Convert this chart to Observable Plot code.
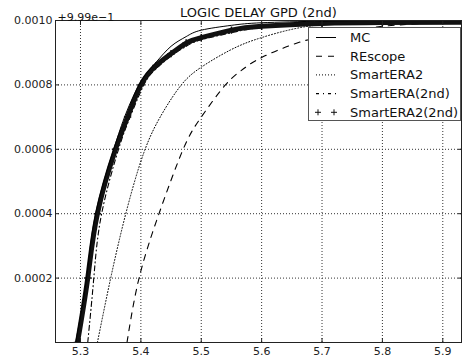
<!DOCTYPE html>
<html><head><meta charset="utf-8">
<script src="https://cdn.jsdelivr.net/npm/d3@7"></script>
<script src="https://cdn.jsdelivr.net/npm/@observablehq/plot@0.6"></script>
<style>
body{margin:0;background:#fff;}
#chart{width:462px;height:358px;position:relative;}
svg{font-family:"DejaVu Sans",sans-serif;}
</style></head><body><div id="chart"></div>
<script>
const title = "LOGIC DELAY GPD (2nd)";
const offsetLabel = "+9.99e\u22121";
const xTicks = [5.3, 5.4, 5.5, 5.6, 5.7, 5.8, 5.9];
const yTicks = [0.0002, 0.0004, 0.0006, 0.0008, 0.0010];
const yTickLabels = ["0.0002", "0.0004", "0.0006", "0.0008", "0.0010"];
const seriesNames = ["MC", "REscope", "SmartERA2", "SmartERA(2nd)", "SmartERA2(2nd)"];

// values are offsets from 9.99e-1
const mcX = [5.292, 5.310, 5.325, 5.355, 5.375, 5.400, 5.425, 5.450, 5.475, 5.500, 5.550, 5.600, 5.700, 5.800, 5.940];
const mcY = [0, 0.0002, 0.0004, 0.0006, 0.00071, 0.00081, 0.00087, 0.00092, 0.00095, 0.00097, 0.000985, 0.000993, 0.000998, 0.0010, 0.0010];

const rescopeX = [5.377, 5.397, 5.430, 5.470, 5.500, 5.540, 5.570, 5.600, 5.667, 5.730, 5.800, 5.940];
const rescopeY = [0, 0.0002, 0.0004, 0.0006, 0.00070, 0.0008, 0.00085, 0.000885, 0.000935, 0.00096, 0.000982, 0.000997];

const era2X = [5.328, 5.350, 5.375, 5.405, 5.435, 5.467, 5.500, 5.550, 5.600, 5.670, 5.750, 5.850, 5.940];
const era2Y = [0, 0.0002, 0.0004, 0.00059, 0.00071, 0.0008, 0.000855, 0.00091, 0.000947, 0.00098, 0.000993, 0.000998, 0.0010];

const eraSecX = [5.312, 5.322, 5.335, 5.363, 5.380, 5.405, 5.425, 5.450, 5.475, 5.500, 5.550, 5.600, 5.700, 5.800, 5.940];
const eraSecY = [0, 0.0002, 0.0004, 0.0006, 0.00069, 0.0008, 0.00085, 0.00089, 0.00092, 0.00094, 0.000962, 0.000978, 0.00099, 0.000995, 0.000998];

const era2SecX = [5.295, 5.312, 5.328, 5.358, 5.378, 5.400, 5.425, 5.450, 5.475, 5.500, 5.550, 5.600, 5.700, 5.800, 5.940];
const era2SecY = [0, 0.0002, 0.0004, 0.0006, 0.00070, 0.0008, 0.00086, 0.000897, 0.00093, 0.000947, 0.00097, 0.000982, 0.000991, 0.000994, 0.000995];

const toRows = (xs, ys) => xs.map((x, i) => ({x, y: ys[i]}));
const mc = toRows(mcX, mcY);
const rescope = toRows(rescopeX, rescopeY);
const era2 = toRows(era2X, era2Y);
const eraSec = toRows(eraSecX, eraSecY);
const era2Sec = toRows(era2SecX, era2SecY);

const lineOpt = {x: "x", y: "y", stroke: "#000", curve: "natural", clip: true};
const gridStyle = {stroke: "#333", strokeWidth: 1, strokeDasharray: "1,2"};

const chart = Plot.plot({
  width: 462,
  height: 358,
  marginLeft: 55,
  marginRight: 1,
  marginTop: 20,
  marginBottom: 16,
  style: {fontFamily: "DejaVu Sans, sans-serif", fontSize: "11px", background: "#fff", color: "#222"},
  x: {domain: [5.2586, 5.931]},
  y: {domain: [0, 0.001]},
  marks: [
    Plot.ruleX(xTicks, gridStyle),
    Plot.ruleY(yTicks, gridStyle),
    Plot.line(rescope, {...lineOpt, strokeWidth: 1.1, strokeDasharray: "6,6"}),
    Plot.line(era2, {...lineOpt, strokeWidth: 1, strokeDasharray: "1,2"}),
    Plot.line(eraSec, {...lineOpt, strokeWidth: 1.1, strokeDasharray: "5,3,1,3"}),
    Plot.line(era2Sec, {...lineOpt, strokeWidth: 5, stroke: "#111"}),
    Plot.dot(era2Sec, {x: "x", y: "y", symbol: "plus", r: 2.5, stroke: "#111", clip: true}),
    Plot.line(mc, {...lineOpt, strokeWidth: 1}),
    Plot.frame({stroke: "#222", strokeWidth: 1}),
    Plot.axisX({anchor: "bottom", ticks: xTicks, tickSize: 0, tickPadding: 5, tickFormat: d => d.toFixed(1), fontSize: 11, label: null}),
    Plot.axisX({anchor: "bottom", ticks: xTicks, tickSize: -4, text: null, label: null}),
    Plot.axisX({anchor: "top", ticks: xTicks, tickSize: -4, text: null, label: null}),
    Plot.axisY({anchor: "left", ticks: yTicks, tickSize: 0, tickPadding: 3, tickFormat: d => yTickLabels[yTicks.indexOf(d)], fontSize: 11, label: null}),
    Plot.axisY({anchor: "left", ticks: yTicks, tickSize: -4, text: null, label: null}),
    Plot.axisY({anchor: "right", ticks: yTicks, tickSize: -4, text: null, label: null}),
    Plot.text([title], {frameAnchor: "top", dy: -13, fontSize: 13, fill: "#111"}),
    Plot.text([offsetLabel], {frameAnchor: "top-left", textAnchor: "start", dx: 2, dy: -7, fontSize: 11, fill: "#111"})
  ]
});
document.getElementById("chart").appendChild(chart);

// legend inside the axes (upper right)
const svg = d3.select(chart);
const lg = svg.append("g").attr("font-family", "DejaVu Sans, sans-serif").attr("font-size", 13).attr("text-anchor", "start");
lg.append("rect").attr("x", 308.5).attr("y", 27.5).attr("width", 152).attr("height", 93)
  .attr("fill", "#fff").attr("stroke", "#555").attr("stroke-width", 1);
const styles = [
  {dash: null, w: 1},
  {dash: "6,6", w: 1.1},
  {dash: "1,2", w: 1},
  {dash: "3,4,1,4", w: 1.1},
  {plus: true}
];
seriesNames.forEach((name, i) => {
  const y = 37.5 + i * 18.7;
  const s = styles[i];
  if (s.plus) {
    [318, 334].forEach(px => {
      lg.append("path").attr("d", `M${px - 3},${y}h6M${px},${y - 3}v6`).attr("stroke", "#111").attr("stroke-width", 1).attr("fill", "none");
    });
  } else {
    const l = lg.append("line").attr("x1", 316).attr("x2", 336).attr("y1", y).attr("y2", y)
      .attr("stroke", "#000").attr("stroke-width", s.w);
    if (s.dash) l.attr("stroke-dasharray", s.dash);
  }
  lg.append("text").attr("x", 350).attr("y", y).attr("dy", "0.35em").attr("fill", "#111").attr("text-anchor", "start").text(name);
});
</script>
</body></html>
